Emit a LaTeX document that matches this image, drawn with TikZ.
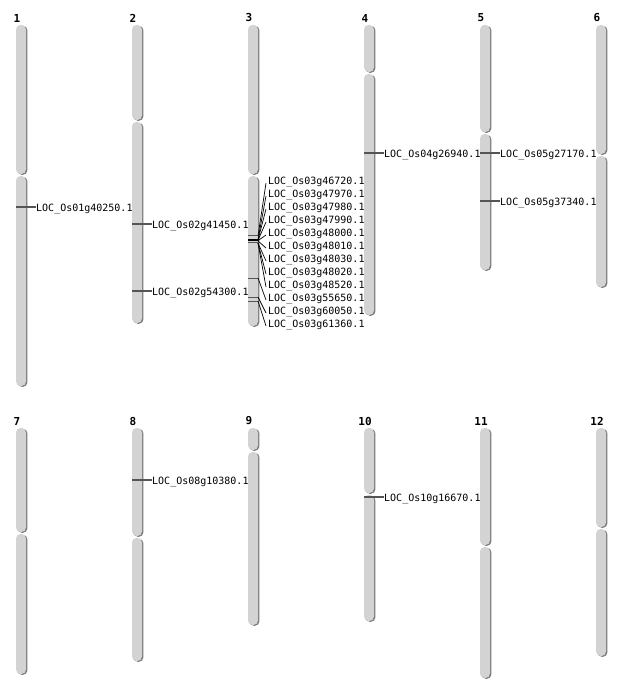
\documentclass[tikz,border=0pt]{standalone}
\usepackage{fontspec}
\newfontfamily\monofam{DejaVu Sans Mono}
\usetikzlibrary{calc}
\definecolor{chrfill}{HTML}{D3D3D3}
\definecolor{chrshade}{HTML}{7A7A7A}
\definecolor{markc}{HTML}{555555}
\tikzset{
  chrnum/.style={font=\monofam\bfseries\fontsize{11}{11}\selectfont, inner sep=0pt, anchor=center},
  genelab/.style={font=\monofam\fontsize{10}{10}\selectfont, inner sep=0pt, anchor=west, yshift=-1.5pt},
  markline/.style={draw=markc, line width=1.3pt},
  conn/.style={draw=black, line width=0.7pt},
}
% arm: x centre, top, bottom
\newcommand\chrarm[3]{%
  \fill[chrshade, rounded corners=4.5pt] ({#1-5+1.4},{#2+0.8}) rectangle ({#1+5+1.4},{#3+0.8});
  \fill[chrfill, rounded corners=4.5pt] ({#1-5},#2) rectangle ({#1+5},#3);}
% chromosome: name, x centre, top, centromere, bottom
\newcommand\chromo[5]{%
  \chrarm{#2}{#3}{#4-1}
  \chrarm{#2}{#4+1}{#5}
  \node[chrnum] (n#1) at ({#2-4},{#3-7}) {#1};}
\begin{document}
\begin{tikzpicture}[x=1pt,y=-1pt]
\useasboundingbox (0,0) rectangle (634,700);
% top row
\chromo{1}{21}{25}{175}{386}
\chromo{2}{137}{25}{121}{323}
\chromo{3}{253}{25}{175}{326}
\chromo{4}{369}{25}{73}{315}
\chromo{5}{485}{25}{133}{270}
\chromo{6}{601}{25}{155}{287}
% bottom row
\chromo{7}{21}{428}{533}{674}
\chromo{8}{137}{428}{537}{661}
\chromo{9}{253}{428}{451}{625}
\chromo{10}{369}{428}{494}{621}
\chromo{11}{485}{428}{546}{678}
\chromo{12}{601}{428}{528}{656}
% simple markers
\node[genelab] (g1) at (36,207) {LOC\_Os01g40250.1};
\coordinate (m1) at (16,207);
\draw[markline] (m1) -- (g1.west |- m1);
\node[genelab] (g2a) at (152,224) {LOC\_Os02g41450.1};
\coordinate (m2a) at (132,224);
\draw[markline] (m2a) -- (g2a.west |- m2a);
\node[genelab] (g2b) at (152,291) {LOC\_Os02g54300.1};
\coordinate (m2b) at (132,291);
\draw[markline] (m2b) -- (g2b.west |- m2b);
\node[genelab] (g4) at (384,153) {LOC\_Os04g26940.1};
\coordinate (m4) at (364,153);
\draw[markline] (m4) -- (g4.west |- m4);
\node[genelab] (g5a) at (500,153) {LOC\_Os05g27170.1};
\coordinate (m5a) at (480,153);
\draw[markline] (m5a) -- (g5a.west |- m5a);
\node[genelab] (g5b) at (500,201) {LOC\_Os05g37340.1};
\coordinate (m5b) at (480,201);
\draw[markline] (m5b) -- (g5b.west |- m5b);
\node[genelab] (g8) at (152,480) {LOC\_Os08g10380.1};
\coordinate (m8) at (132,480);
\draw[markline] (m8) -- (g8.west |- m8);
\node[genelab] (g10) at (384,497) {LOC\_Os10g16670.1};
\coordinate (m10) at (364,497);
\draw[markline] (m10) -- (g10.west |- m10);
% chromosome 3 cluster
\foreach \i/\gid/\my/\mc in {1/46720/236/markc,2/47970/239.6/black,3/47980/240/black,4/47990/240.3/black,5/48000/240.6/black,6/48010/241/black,7/48030/243/markc,8/48020/243/markc,9/48520/243/markc,10/55650/278/markc,11/60050/297/markc,12/61360/301/markc}{
  \node[genelab] (c\i) at (268,{167+13*\i}) {LOC\_Os03g\gid.1};
  \coordinate (cm\i) at (248,\my);
  \coordinate (ce\i) at (258,\my);
  \draw[markline, draw=\mc, line width=1pt] (cm\i) -- (ce\i);
  \draw[conn] (ce\i) -- ($(c\i.west)+(-2,1.5)$);
}
\end{tikzpicture}
\end{document}
